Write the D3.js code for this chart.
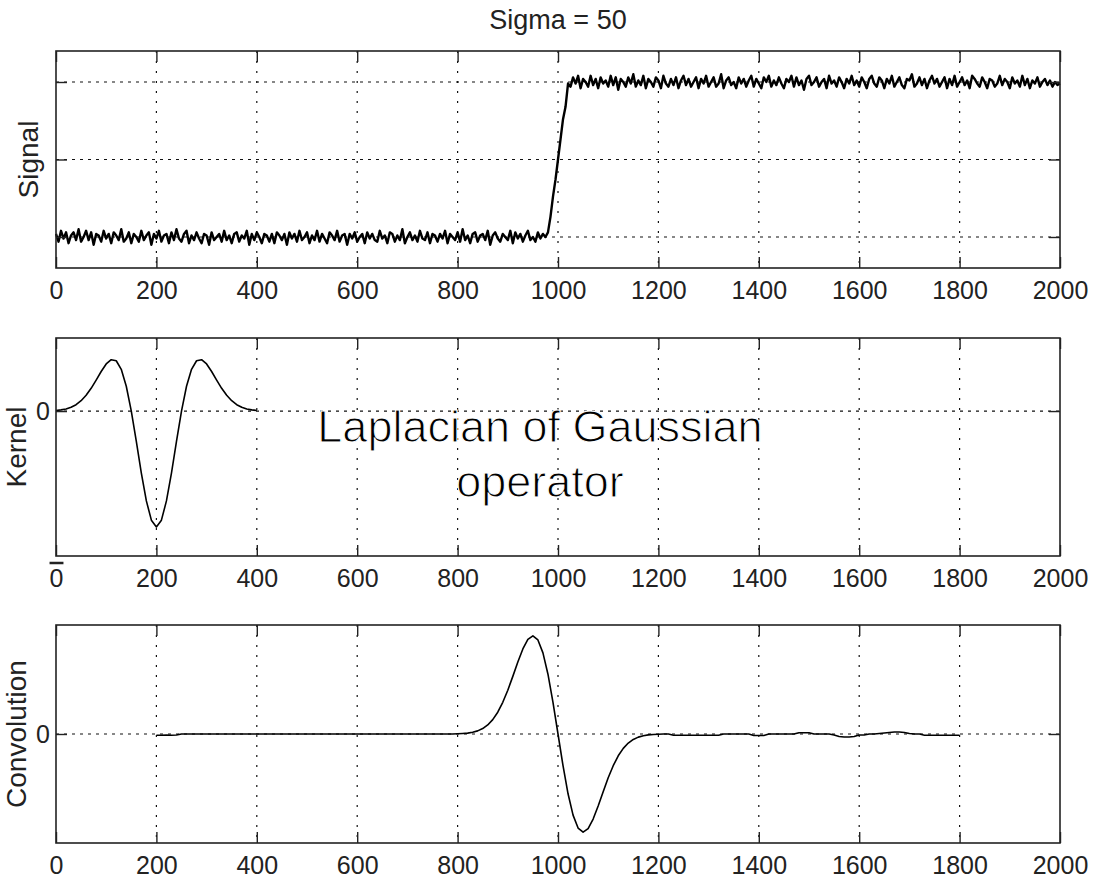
<!DOCTYPE html>
<html>
<head>
<meta charset="utf-8">
<script src="https://cdn.jsdelivr.net/npm/d3@7"></script>
<style>
body { margin: 0; background: #fff; }
text { font-family: "Liberation Sans", Arial, Helvetica, sans-serif; fill: #222; }
</style>
</head>
<body>
<div id="chart"></div>
<script>
const xTicks = [0, 200, 400, 600, 800, 1000, 1200, 1400, 1600, 1800, 2000];

// noisy step, one sample every 5 units
const signalStep = 5;
const signalLow = [
  0.02,-0.03,0.04,-0.01,0.03,-0.04,0.01,0.03,-0.02,0.05,-0.03,0.00,0.04,-0.02,
  0.03,-0.05,0.02,0.01,-0.03,0.04,-0.01,0.02,-0.04,0.03,0.01,-0.02,0.05,-0.03,
  -0.01,0.03,-0.04,0.02,0.00,-0.03,0.04,-0.02,0.01,0.03,-0.05,0.02,-0.01,0.04,
  -0.03,0.01,0.02,-0.04,0.03,-0.02,0.05,-0.01,-0.03,0.02,0.04,-0.04,0.01,-0.02,
  0.03,-0.01,-0.04,0.02,0.01,-0.05,0.03,-0.02,0.00,0.02,-0.03,0.04,-0.02,0.01,
  -0.04,0.02,0.03,-0.03,0.01,-0.01,0.04,-0.05,0.02,-0.02,0.03,0.00,-0.04,0.02,
  0.01,-0.03,0.02,-0.04,0.03,0.01,-0.02,0.02,-0.05,0.03,-0.01,0.02,-0.03,0.04,
  -0.02,0.00,0.03,-0.04,0.01,-0.02,0.04,-0.03,0.02,-0.01,-0.04,0.03,0.01,-0.02,
  0.04,-0.03,0.01,0.02,-0.05,0.02,-0.01,0.03,-0.03,0.00,0.02,-0.04,0.03,-0.01,
  0.02,-0.02,-0.03,0.04,-0.01,0.01,-0.04,0.03,0.02,-0.03,0.01,-0.02,0.05,-0.04,
  0.00,0.03,-0.02,0.01,-0.03,0.04,-0.01,-0.02,0.03,-0.04,0.02,0.01,-0.03,0.02,
  -0.01,0.04,-0.04,0.02,0.00,-0.02,0.03,-0.03,0.05,-0.02,0.01,-0.04,0.02,0.03,
  -0.03,0.01,0.02,-0.02,0.04,-0.05,0.01,0.03,-0.01,-0.03,0.02,0.00,-0.02,0.04,
  -0.04,0.03,-0.01,0.02,-0.03,0.01,0.04,-0.02,0.00,-0.03,0.03,-0.01,0.02,0.00
];
const signalRamp = [0.03, 0.13, 0.26, 0.37, 0.50, 0.63, 0.76, 0.84, 0.99];
const signalHigh = [
  0.97,1.03,0.99,1.04,0.96,1.02,1.00,0.97,1.04,0.98,1.02,0.96,1.03,0.99,
  1.01,0.97,1.04,0.98,1.03,0.95,1.02,1.00,0.97,1.03,0.99,1.05,0.97,1.01,
  0.98,1.04,0.96,1.02,1.00,0.97,1.03,1.01,0.96,1.04,0.99,0.97,1.02,0.98,
  1.03,0.96,1.01,1.04,0.98,1.02,0.97,1.00,1.03,0.96,1.02,0.99,1.04,0.97,
  1.00,1.03,0.97,0.99,1.05,0.96,1.01,1.03,0.98,1.00,0.96,1.03,0.99,1.02,
  0.97,1.01,1.04,0.97,1.02,0.99,0.96,1.03,1.00,1.04,0.97,1.01,0.98,1.03,
  0.99,0.96,1.02,1.00,1.04,0.97,1.03,0.98,1.01,0.95,1.02,1.04,0.98,1.00,
  1.03,0.97,1.00,1.02,0.96,1.04,0.99,1.01,0.97,1.03,1.00,0.96,1.02,0.99,
  1.04,0.98,1.01,0.97,1.03,1.00,0.96,1.02,1.04,0.99,0.97,1.03,1.01,0.96,
  1.02,0.99,1.04,0.97,1.00,1.03,0.98,0.96,1.02,1.01,1.05,0.97,0.99,1.03,
  0.98,1.02,0.96,1.01,1.04,0.99,1.02,0.97,1.00,1.03,0.96,1.02,0.98,1.04,
  0.97,1.00,1.03,0.98,1.01,0.96,1.04,1.02,0.99,0.97,1.03,1.00,0.96,1.02,
  1.01,0.97,0.99,1.04,0.98,1.02,1.00,0.96,1.03,0.99,1.01,0.97,1.04,0.98,
  1.02,0.96,1.01,0.99,1.03,0.97,1.00,1.02,0.98,1.01,0.97,1.00,0.98,0.99
];

// LoG kernel, 0..400 every 10
const kernelStep = 10;
const kernel = [
  0.005,0.010,0.018,0.033,0.055,0.089,0.136,0.196,0.267,0.341,0.406,0.443,0.434,0.360,0.214,0,
  -0.261,-0.535,-0.775,-0.941,-1,-0.941,-0.775,-0.535,-0.261,
  0,0.214,0.360,0.434,0.443,0.406,0.341,0.267,0.196,0.136,0.089,0.055,0.033,0.018,0.010,0.005
];

// convolution result, 200..1800 every 10
const convStart = 200;
const convStep = 10;
const conv = [
  -0.012,-0.012,-0.010,-0.012,-0.010,
  0,0,0,0,0,0,0,0,0,0,0,0,0,0,0,0,0,0,0,0,0,0,0,0,0,0,0,0,0,0,
  0,0,0,0,0,0,0,0,0,0,0,0,0,0,0,0,0,0,0,0,0,0,0,0,0,
  0.002,0.005,0.009,0.017,0.032,0.055,0.092,0.146,0.222,0.323,0.446,0.587,0.733,0.866,0.963,1.0,
  0.958,0.826,0.609,0.323,0,-0.323,-0.609,-0.826,-0.958,-1.0,
  -0.963,-0.866,-0.733,-0.587,-0.446,-0.323,-0.222,-0.146,-0.092,-0.055,-0.032,-0.017,-0.009,-0.005,-0.002,
  0,0,
  -0.012,-0.012,-0.012,-0.012,-0.012,-0.012,-0.012,-0.012,-0.012,-0.012,
  0,0,0,0,0,0,
  -0.015,-0.015,-0.015,
  0,0,0,0,0,0,
  0.012,0.012,0.012,
  0,0,0,0,
  -0.010,-0.025,-0.030,-0.030,-0.025,
  -0.010,-0.010,0,0,0.005,
  0.010,0.015,0.020,0.020,0.015,0.005,
  0,0,
  -0.012,-0.012,-0.012,-0.012,-0.012,-0.012,-0.012,-0.012
];

const signalData = signalLow.concat(signalRamp, signalHigh).map((v, i) => [i * signalStep, v]);
const kernelData = kernel.map((v, i) => [i * kernelStep, v]);
const convData = conv.map((v, i) => [convStart + i * convStep, v]);

const width = 1098;
const height = 879;
const left = 56, right = 1060;

const svg = d3.select("#chart")
    .append("svg")
    .attr("width", width)
    .attr("height", height);

const x = d3.scaleLinear().domain([0, 2000]).range([left, right]);

function drawPanel(top, bottom, yDomain, yTicks, showYLabels, label, labelX, data, lineWidth, overlineZero) {
    const y = d3.scaleLinear().domain(yDomain).range([bottom, top]);
    const g = svg.append("g");

    // dotted grid
    g.append("g").selectAll("line")
        .data(xTicks.slice(1, -1))
        .join("line")
        .attr("x1", d => x(d)).attr("x2", d => x(d))
        .attr("y1", top).attr("y2", bottom)
        .attr("stroke", "#111").attr("stroke-width", 1.2)
        .attr("stroke-dasharray", "2,8");
    g.append("g").selectAll("line")
        .data(yTicks)
        .join("line")
        .attr("x1", left).attr("x2", right)
        .attr("y1", d => y(d)).attr("y2", d => y(d))
        .attr("stroke", "#111").attr("stroke-width", 1.2)
        .attr("stroke-dasharray", "3,5");

    const line = d3.line().x(d => x(d[0])).y(d => y(d[1]));
    g.append("path")
        .datum(data)
        .attr("fill", "none")
        .attr("stroke", "#000")
        .attr("stroke-width", lineWidth)
        .attr("stroke-linejoin", "round")
        .attr("d", line);

    const xb = g.append("g")
        .attr("transform", "translate(0," + bottom + ")")
        .call(d3.axisBottom(x).tickValues(xTicks).tickSize(-11).tickSizeOuter(0).tickPadding(13)
            .tickFormat(d3.format("d")));
    g.append("g")
        .attr("transform", "translate(0," + top + ")")
        .call(d3.axisTop(x).tickValues(xTicks).tickSize(-11).tickSizeOuter(0).tickFormat(""));
    g.append("g")
        .attr("transform", "translate(" + left + ",0)")
        .call(d3.axisLeft(y).tickValues(yTicks).tickSize(-11).tickSizeOuter(0).tickPadding(6)
            .tickFormat(showYLabels ? d3.format("d") : ""));
    g.append("g")
        .attr("transform", "translate(" + right + ",0)")
        .call(d3.axisRight(y).tickValues(yTicks).tickSize(-11).tickSizeOuter(0).tickFormat(""));

    g.selectAll(".tick line").attr("stroke", "#222").attr("stroke-width", 1.4);
    g.selectAll(".domain").remove();
    g.selectAll(".tick text").attr("font-size", 25).attr("font-family", null).attr("fill", "#222");

    if (overlineZero) {
        xb.selectAll(".tick text").filter(d => d === 0).attr("text-decoration", "overline");
    }

    g.append("rect")
        .attr("x", left).attr("y", top)
        .attr("width", right - left).attr("height", bottom - top)
        .attr("fill", "none").attr("stroke", "#222").attr("stroke-width", 1.6);

    g.append("text")
        .attr("transform", "translate(" + labelX + "," + (top + bottom) / 2 + ") rotate(-90)")
        .attr("text-anchor", "middle")
        .attr("font-size", 28)
        .text(label);
}

drawPanel(51, 268, [-0.2, 1.2], [0, 0.5, 1], false, "Signal", 38, signalData, 2.4, false);
drawPanel(338, 556, [-1.25, 0.63], [0], true, "Kernel", 26, kernelData, 1.6, true);
drawPanel(625, 843, [-1.11, 1.11], [0], true, "Convolution", 26, convData, 1.6, false);

svg.append("text")
    .attr("x", 558).attr("y", 29)
    .attr("text-anchor", "middle")
    .attr("font-size", 27)
    .text("Sigma = 50");

// thin, light-looking annotation: white outline eats into the glyphs
const note = svg.append("text")
    .attr("text-anchor", "middle")
    .attr("font-family", "'Roboto Light', 'Lato Light', 'Open Sans Light', Roboto, Lato, sans-serif")
    .attr("font-weight", 300)
    .attr("font-size", 45)
    .attr("stroke", "#fff")
    .attr("stroke-width", 1.1)
    .style("fill", "#000");
note.append("tspan").attr("x", 540).attr("y", 442).text("Laplacian of Gaussian");
note.append("tspan").attr("x", 540).attr("y", 497).text("operator");
</script>
</body>
</html>
